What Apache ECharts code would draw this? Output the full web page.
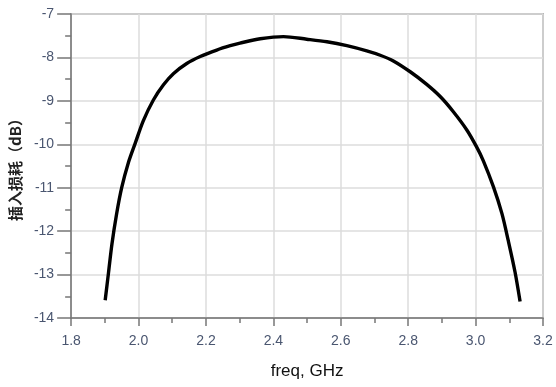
<!DOCTYPE html>
<html>
<head>
<meta charset="utf-8">
<script src="https://cdn.jsdelivr.net/npm/echarts@6/dist/echarts.min.js"></script>
<style>
  html, body { margin: 0; padding: 0; background: #fff; }
  #chart { width: 556px; height: 387px; }
</style>
</head>
<body>
<div id="chart"></div>
<script>
// 频率 (GHz) 与插入损耗 (dB)
const freq = [1.901, 1.911, 1.921, 1.935, 1.950, 1.970, 1.990, 2.014, 2.044, 2.074, 2.104, 2.143, 2.183, 2.232, 2.272, 2.301, 2.361, 2.430, 2.499, 2.559, 2.618, 2.677, 2.717, 2.756, 2.806, 2.855, 2.895, 2.934, 2.974, 3.003, 3.023, 3.053, 3.078, 3.097, 3.117, 3.132];
const loss = [-13.59, -12.95, -12.30, -11.60, -11.00, -10.42, -9.98, -9.46, -8.98, -8.63, -8.37, -8.14, -7.98, -7.83, -7.73, -7.67, -7.57, -7.52, -7.58, -7.64, -7.73, -7.85, -7.95, -8.08, -8.33, -8.62, -8.90, -9.25, -9.67, -10.06, -10.38, -10.98, -11.59, -12.22, -12.94, -13.62];
const xTicks = [1.8, 2.0, 2.2, 2.4, 2.6, 2.8, 3.0, 3.2];
const yTicks = [-14, -13, -12, -11, -10, -9, -8, -7];

const chart = echarts.init(document.getElementById('chart'));

const labelStyle = {
  fontFamily: 'Liberation Sans, Arial, sans-serif',
  fontSize: 14,
  color: '#4a5670'
};

const option = {
  animation: false,
  grid: {
    left: 71,
    right: 13,
    top: 14,
    bottom: 69,
    show: true,
    borderColor: '#808080',
    borderWidth: 1.5
  },
  xAxis: {
    type: 'value',
    min: xTicks[0],
    max: xTicks[xTicks.length - 1],
    interval: 0.2,
    name: 'freq, GHz',
    nameLocation: 'middle',
    nameGap: 45,
    nameTextStyle: {
      fontFamily: 'Liberation Sans, Arial, sans-serif',
      fontSize: 17,
      color: '#111'
    },
    axisLine: { lineStyle: { color: '#777', width: 1.5 } },
    axisTick: { length: 8, lineStyle: { color: '#777', width: 1.5 } },
    minorTick: { show: true, splitNumber: 2, length: 5, lineStyle: { color: '#777', width: 1.5 } },
    axisLabel: Object.assign({ margin: 16, formatter: v => v.toFixed(1) }, labelStyle),
    splitLine: { show: true, lineStyle: { color: '#dcdcdc', width: 1.5 } }
  },
  yAxis: {
    type: 'value',
    min: yTicks[0],
    max: yTicks[yTicks.length - 1],
    interval: 1,
    name: '插入损耗（dB）',
    nameLocation: 'middle',
    nameGap: 48,
    nameTextStyle: {
      fontFamily: 'Noto Sans CJK SC, sans-serif',
      fontSize: 15,
      fontWeight: 'bold',
      color: '#222'
    },
    axisLine: { show: true, lineStyle: { color: '#777', width: 1.5 } },
    axisTick: { show: true, length: 14, lineStyle: { color: '#777', width: 1.5 } },
    minorTick: { show: true, splitNumber: 2, length: 6, lineStyle: { color: '#777', width: 1.5 } },
    axisLabel: Object.assign({ margin: 17 }, labelStyle),
    splitLine: { show: true, lineStyle: { color: '#dcdcdc', width: 1.5 } }
  },
  series: [
    {
      type: 'line',
      data: freq.map((f, i) => [f, loss[i]]),
      smooth: 0.3,
      symbol: 'none',
      lineStyle: { color: '#000', width: 3.4 }
    }
  ]
};

chart.setOption(option);
</script>
</body>
</html>
